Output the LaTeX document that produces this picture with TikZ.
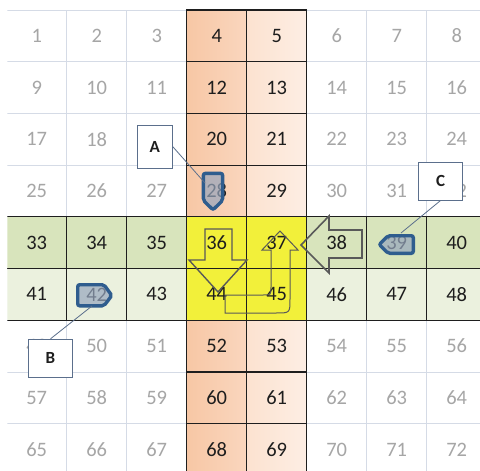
\documentclass[tikz,border=0pt]{standalone}
\usepackage{fontspec}
\setmainfont{Carlito}
\usetikzlibrary{positioning}
\definecolor{gridgray}{RGB}{213,219,230}
\definecolor{numgray}{RGB}{166,166,166}
\definecolor{numdark}{RGB}{30,30,30}
\definecolor{peachdark}{RGB}{247,199,165}
\definecolor{peachmid}{RGB}{250,214,190}
\definecolor{peachlight}{RGB}{252,226,208}
\definecolor{peachpale}{RGB}{253,238,228}
\definecolor{greendark}{RGB}{216,228,188}
\definecolor{greenlight}{RGB}{235,241,222}
\definecolor{cellyellow}{RGB}{242,240,58}
\definecolor{arrowgray}{RGB}{89,89,89}
\definecolor{markblue}{RGB}{47,93,142}
\definecolor{markfill}{RGB}{150,166,190}
\definecolor{calloutline}{RGB}{91,111,140}
\tikzset{
  cell/.style={
    minimum width=60pt,
    minimum height=51.7pt,
    inner sep=0pt,
    text=numgray,
    font=\fontsize{20.5}{20.5}\selectfont
  },
  plain/.style={},
  marked/.style={
    draw=numdark,
    line width=1.2pt,
    text=numdark
  },
  colA/.style={marked, left color=peachdark, right color=peachmid},
  colB/.style={marked, left color=peachlight, right color=peachpale},
  rowA/.style={marked, fill=greendark},
  rowB/.style={marked, fill=greenlight},
  centre/.style={marked, fill=cellyellow},
  bigarrow/.style={
    draw=arrowgray,
    line width=1.4pt,
    line join=miter
  },
  marker/.style={
    draw=markblue,
    line width=3.4pt,
    rounded corners=2pt,
    fill=markfill,
    fill opacity=0.7
  },
  callout/.style={
    draw=calloutline,
    line width=1pt,
    fill=white,
    inner sep=0pt,
    text=numdark,
    font=\fontsize{17}{17}\selectfont\bfseries
  },
  link/.style={
    calloutline,
    line width=0.8pt
  }
}

\begin{document}
\begin{tikzpicture}[x=1pt, y=-1pt]
\useasboundingbox (0,0) rectangle (480,471);
\fill[white] (0,0) rectangle (480,471);
\clip (7.4,0) rectangle (480,471);

% light sheet grid
\foreach \r in {0,...,9}
  \draw[gridgray, line width=0.8pt] (6.7,{10+51.7*\r}) -- (480,{10+51.7*\r});
\foreach \c in {1,...,7}
  \draw[gridgray, line width=0.8pt] ({6.7+60*\c},10) -- ({6.7+60*\c},471);

% cells (19 sits fully under callout A)
\foreach \r in {1,...,9}{
  \foreach \c in {1,...,8}{
    \pgfmathtruncatemacro{\n}{8*(\r-1)+\c}
    \def\kind{plain}
    \def\txt{\n}
    \ifnum\n=19 \def\txt{}\fi
    \ifnum\r=5 \def\kind{rowA}\fi
    \ifnum\r=6 \def\kind{rowB}\fi
    \ifnum\c=4 \def\kind{colA}\fi
    \ifnum\c=5 \def\kind{colB}\fi
    \ifnum\r>4 \ifnum\r<7 \ifnum\c>3 \ifnum\c<6 \def\kind{centre}\fi\fi\fi\fi
    \node[cell, \kind] (c\n) at ({60*\c-23.3},{51.7*\r-15.85}) {\txt};
  }
}

% block arrows
\draw[bigarrow] (205,229) -- (232,229) -- (232,260) -- (247,260) -- (218,292)
  -- (189,260) -- (205,260) -- cycle;
\draw[bigarrow, line width=1pt] (225,295) -- (263,295) .. controls (271,295) .. (271,287)
  -- (271,250) -- (262,250) -- (280,231) -- (298,250) -- (290,250) -- (290,299)
  .. controls (290,313) .. (276,313) -- (225,313) -- cycle;
\draw[bigarrow, line width=1.6pt] (301,245) -- (329,216) -- (329,230) -- (362,230)
  -- (362,258) -- (329,258) -- (329,273) -- cycle;

% tags
\draw[marker] (203.4,173.4) -- (222.6,173.4) -- (222.6,200.5) -- (213,209.8) -- (203.4,200.5) -- cycle;
\draw[marker] (413.3,235.7) -- (413.3,253.3) -- (388,253.3) -- (379.2,244.5) -- (388,235.7) -- cycle;
\draw[marker] (77.7,284.7) -- (104,284.7) -- (111.8,295.5) -- (104,305.8) -- (77.7,305.8) -- cycle;
\coordinate (m28) at (205,183);
\coordinate (m39) at (401,233);
\coordinate (m42) at (92,306);

% callouts
\node[callout, minimum width=35pt, minimum height=43pt] (A) at (154.8,146.7) {A};
\node[callout, minimum width=44pt, minimum height=38pt] (B) at (50.5,358.3) {B};
\node[callout, minimum width=44pt, minimum height=37.5pt] (C) at (440.5,181.3) {C};
\draw[link] (A.east) -- (m28);
\draw[link] (B.north) -- (m42);
\draw[link] (C.south) -- (m39);
\end{tikzpicture}
\end{document}
